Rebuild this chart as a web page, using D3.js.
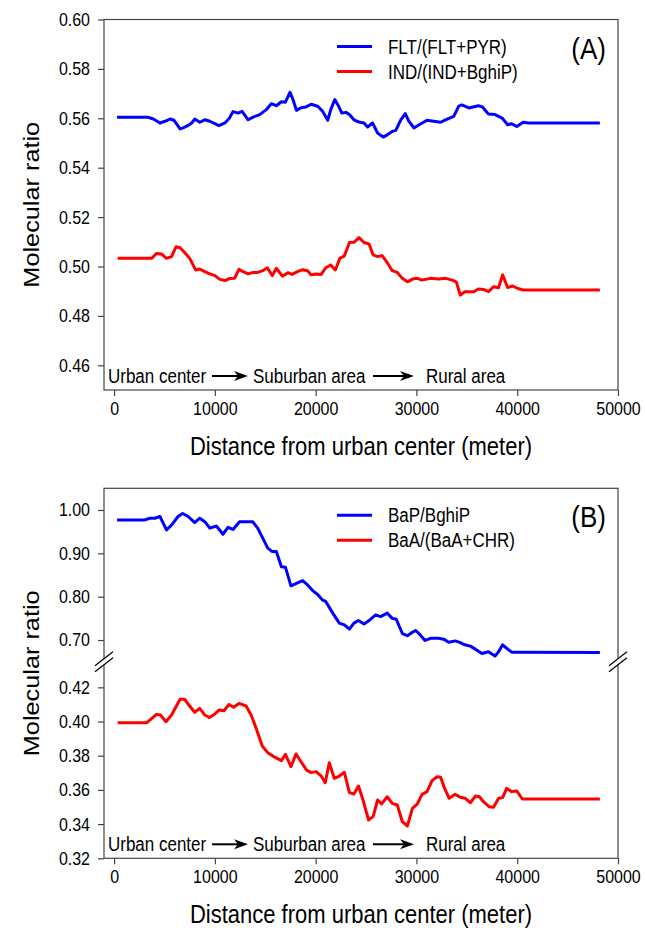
<!DOCTYPE html>
<html>
<head>
<meta charset="utf-8">
<script src="https://cdn.jsdelivr.net/npm/d3@7"></script>
<style>
  body { margin: 0; background: #fff; }
  text { font-family: "Liberation Sans", Arial, sans-serif; fill: #000; }
</style>
</head>
<body>
<div id="chart"></div>
<script>
// ---- Panel A data ----
const distFlt = [300, 3400, 3900, 4550, 5050, 5550, 5950, 6550, 6850, 7350, 7700, 8000, 8500, 9000, 9500, 10400, 11000, 11450, 11800, 12300,
  12700, 13300, 13800, 14450, 15100, 15600, 16100, 16600, 17000, 17450, 17750, 18100, 18550, 19050, 19550, 20200, 20700, 21200, 21500, 21900,
  22200, 22600, 23000, 23350, 23800, 24300, 24800, 25150, 25650, 26150, 26700, 27100, 27600, 27950, 28450, 28900, 29250, 29750, 30400, 31050,
  31700, 32400, 33050, 33700, 34200, 34500, 35200, 36150, 36550, 37150, 37800, 38500, 39050, 39450, 39950, 40600, 41100, 48200];
const fltPyr = [0.5604, 0.5604, 0.5597, 0.5581, 0.5588, 0.5597, 0.5592, 0.5557, 0.5561, 0.5571, 0.5581, 0.5597, 0.5584, 0.5594, 0.5588, 0.5570, 0.5581, 0.5601, 0.5627, 0.5621,
  0.5628, 0.5594, 0.5605, 0.5615, 0.5635, 0.5659, 0.5651, 0.5667, 0.5665, 0.5705, 0.5676, 0.5632, 0.5643, 0.5646, 0.5657, 0.5649, 0.5628, 0.5592, 0.5635, 0.5676,
  0.5655, 0.5621, 0.5624, 0.5615, 0.5594, 0.5585, 0.5581, 0.5565, 0.5581, 0.5540, 0.5524, 0.5533, 0.5547, 0.5551, 0.5594, 0.5619, 0.5588, 0.5561, 0.5577, 0.5592,
  0.5588, 0.5584, 0.5597, 0.5608, 0.5649, 0.5654, 0.5642, 0.5651, 0.5646, 0.5617, 0.5615, 0.5601, 0.5574, 0.5578, 0.5567, 0.5584, 0.5581, 0.5581];

const distInd = [350, 3750, 4200, 4700, 5200, 5700, 6150, 6550, 7000, 7500, 8100, 8500, 9000, 9500, 10000, 10500, 11000, 11450, 11950, 12400,
  12800, 13300, 13800, 14250, 14750, 15200, 15700, 16100, 16700, 17250, 17650, 18200, 18700, 19200, 19550, 20050, 20550, 21000, 21500, 21950,
  22400, 22850, 23350, 23800, 24300, 24800, 25300, 25700, 26150, 26600, 27100, 27600, 28100, 28600, 29100, 29600, 30100, 30550, 31400, 32200,
  32900, 33550, 33950, 34350, 34800, 35700, 36150, 36650, 37150, 37650, 38150, 38550, 39050, 39550, 40050, 40600, 48200];
const indBghip = [0.5033, 0.5033, 0.5053, 0.5051, 0.5033, 0.5040, 0.5080, 0.5076, 0.5057, 0.5033, 0.4986, 0.4990, 0.4979, 0.4970, 0.4963, 0.4948, 0.4943, 0.4951, 0.4952, 0.4989,
  0.4979, 0.4970, 0.4976, 0.4976, 0.4983, 0.4995, 0.4963, 0.4993, 0.4961, 0.4975, 0.4968, 0.4979, 0.4987, 0.4983, 0.4966, 0.4970, 0.4968, 0.4995, 0.5006, 0.4986,
  0.5033, 0.5043, 0.5097, 0.5098, 0.5117, 0.5097, 0.5091, 0.5047, 0.5040, 0.5044, 0.5016, 0.4983, 0.4976, 0.4952, 0.4938, 0.4949, 0.4952, 0.4945, 0.4952, 0.4949,
  0.4952, 0.4945, 0.4938, 0.4884, 0.4898, 0.4898, 0.4909, 0.4907, 0.4898, 0.4918, 0.4914, 0.4966, 0.4915, 0.4921, 0.4911, 0.4905, 0.4905];

// ---- Panel B data ----
const distBap = [300, 3050, 3550, 4050, 4550, 5200, 5700, 6350, 6800, 7350, 8000, 8500, 9000, 9500, 10150, 10800, 11300, 11800, 12450, 13100,
  13750, 14250, 14750, 15250, 15700, 16100, 16600, 17000, 17550, 18200, 18700, 19200, 19700, 20200, 20700, 21000, 21700, 22350, 22850, 23350,
  23800, 24250, 24800, 25300, 25950, 26450, 27100, 27600, 28000, 28600, 29100, 29600, 29900, 30250, 30850, 31400, 32200, 32700, 33200, 33850,
  34350, 34800, 35350, 35850, 36500, 37150, 37800, 38150, 38550, 38950, 39450, 40300, 48200];
const bapBghip = [0.977, 0.977, 0.981, 0.981, 0.985, 0.954, 0.965, 0.985, 0.992, 0.985, 0.971, 0.981, 0.973, 0.958, 0.963, 0.944, 0.960, 0.955, 0.973, 0.973,
  0.973, 0.958, 0.935, 0.912, 0.904, 0.904, 0.869, 0.868, 0.825, 0.832, 0.837, 0.827, 0.814, 0.805, 0.792, 0.789, 0.762, 0.739, 0.735, 0.725,
  0.739, 0.745, 0.737, 0.745, 0.758, 0.754, 0.762, 0.750, 0.748, 0.715, 0.710, 0.718, 0.722, 0.715, 0.699, 0.704, 0.704, 0.702, 0.695, 0.698,
  0.694, 0.689, 0.686, 0.679, 0.669, 0.673, 0.663, 0.673, 0.689, 0.681, 0.672, 0.672, 0.671];

const distBaa = [350, 3250, 3750, 4200, 4600, 5150, 5700, 6550, 7000, 7500, 8000, 8500, 9000, 9450, 10000, 10400, 10900, 11400, 11850, 12400,
  13100, 13600, 14100, 14700, 15250, 15750, 16600, 17000, 17550, 18050, 18550, 19100, 19550, 20050, 20550, 20950, 21350, 21850, 22350, 22850,
  23350, 23800, 24250, 24700, 25250, 25700, 26150, 26550, 27100, 27600, 28100, 28600, 29100, 29600, 30100, 30550, 31050, 31550, 32050, 32400,
  32800, 33250, 33850, 34350, 34850, 35350, 35850, 36250, 36650, 37200, 37650, 38150, 38550, 38950, 39450, 39950, 40500, 48200];
const baaChr = [0.3993, 0.3993, 0.4019, 0.4042, 0.4038, 0.3999, 0.4038, 0.4130, 0.4130, 0.4091, 0.4054, 0.4077, 0.4038, 0.4024, 0.4044, 0.4067, 0.4063, 0.4100, 0.4083, 0.4106,
  0.4091, 0.4038, 0.3960, 0.3857, 0.3818, 0.3798, 0.3771, 0.3808, 0.3736, 0.3810, 0.3765, 0.3716, 0.3701, 0.3707, 0.3681, 0.3642, 0.3759, 0.3668, 0.3681, 0.3703,
  0.3584, 0.3576, 0.3623, 0.3541, 0.3424, 0.3444, 0.3541, 0.3518, 0.3560, 0.3521, 0.3512, 0.3414, 0.3389, 0.3492, 0.3518, 0.3574, 0.3590, 0.3654, 0.3677, 0.3674,
  0.3609, 0.3551, 0.3574, 0.3557, 0.3551, 0.3525, 0.3564, 0.3560, 0.3531, 0.3502, 0.3498, 0.3551, 0.3555, 0.3609, 0.3590, 0.3594, 0.3547, 0.3547];

// tick labels
const xTicks = [0, 10000, 20000, 30000, 40000, 50000];
const yTicksA = [0.46, 0.48, 0.50, 0.52, 0.54, 0.56, 0.58, 0.60];
const yTicksB = [0.32, 0.34, 0.36, 0.38, 0.40, 0.42, 0.70, 0.80, 0.90, 1.00];

const svgWidth = 645;
const svgHeight = 928;
const plotLeft = 104;
const plotRight = 618;
const stretch = 1.15; // the original figure's lettering is a bit taller than wide

const svg = d3.select("#chart")
  .append("svg")
  .attr("width", svgWidth)
  .attr("height", svgHeight);

svg.append("rect").attr("width", svgWidth).attr("height", svgHeight).attr("fill", "#fff");

const xScale = d3.scaleLinear()
  .domain([-1000, 50000])
  .range([plotLeft, plotRight]);

// panel A: plain scale; panel B: broken scale (gap between 0.435 and 0.65)
const yA = d3.scaleLinear().domain([0.45, 0.60]).range([390, 19.5]);
const yB = d3.scaleLinear()
  .domain([0.32, 0.435, 0.65, 1.05])
  .range([858.3, 661.7, 661.7, 488.3]);

// text helper, baseline at (x, y), stretched vertically
function addText(g, x, y, str, size, anchor) {
  return g.append("text")
    .attr("transform", `translate(${x},${y}) scale(1,${stretch})`)
    .attr("text-anchor", anchor || "start")
    .attr("font-size", size + "px")
    .text(str);
}

function drawPanel(opts) {
  const g = svg.append("g");
  const top = opts.y.range()[opts.y.range().length - 1];
  const bottom = opts.y.range()[0];

  // frame
  g.append("rect")
    .attr("x", plotLeft)
    .attr("y", top)
    .attr("width", plotRight - plotLeft)
    .attr("height", bottom - top)
    .attr("fill", "none")
    .attr("stroke", "#444")
    .attr("stroke-width", 1.2);

  const leftAxis = d3.axisLeft(opts.y)
    .tickValues(opts.yTicks)
    .tickFormat(d3.format(".2f"))
    .tickSize(6)
    .tickPadding(8);

  const bottomAxis = d3.axisBottom(xScale)
    .tickValues(xTicks)
    .tickFormat(d3.format("d"))
    .tickSize(6)
    .tickPadding(6);

  const ya = g.append("g")
    .attr("transform", `translate(${plotLeft},0)`)
    .call(leftAxis);
  const xa = g.append("g")
    .attr("transform", `translate(0,${bottom})`)
    .call(bottomAxis);

  [ya, xa].forEach(a => {
    a.select(".domain").remove();
    a.selectAll(".tick line").attr("stroke", "#444").attr("stroke-width", 1.2);
    a.selectAll(".tick text")
      .attr("font-size", "16px")
      .attr("font-family", "Liberation Sans, Arial, sans-serif")
      .attr("fill", "#000")
      .attr("transform", `scale(1,${stretch})`);
  });
  xa.selectAll(".tick text").attr("y", 12 / stretch);

  // series lines
  const line = d3.line()
    .x(d => xScale(d[0]))
    .y(d => opts.y(d[1]));

  opts.series.forEach(s => {
    g.append("path")
      .datum(d3.zip(s.dist, s.values))
      .attr("fill", "none")
      .attr("stroke", s.color)
      .attr("stroke-width", 3)
      .attr("stroke-linejoin", "round")
      .attr("d", line);
  });

  // legend
  opts.series.forEach((s, i) => {
    const ly = top + 27 + i * 25;
    g.append("line")
      .attr("x1", 337).attr("x2", 372)
      .attr("y1", ly).attr("y2", ly)
      .attr("stroke", s.color)
      .attr("stroke-width", 3);
    addText(g, 388, ly + 7, s.name, 17);
  });

  // panel letter
  addText(g, 606, top + 39, opts.letter, 26, "end");

  // urban -> rural annotation
  const ay = bottom - 7;
  const notes = [["Urban center", 108], ["Suburban area", 253], ["Rural area", 426]];
  notes.forEach(n => addText(g, n[1], ay, n[0], 17));
  [[212, 248], [373, 414]].forEach(a => {
    const cy = ay - 7;
    g.append("line")
      .attr("x1", a[0]).attr("x2", a[1] - 6)
      .attr("y1", cy).attr("y2", cy)
      .attr("stroke", "#000")
      .attr("stroke-width", 2);
    g.append("path")
      .attr("d", `M${a[1]},${cy} L${a[1] - 14},${cy - 5} L${a[1] - 10},${cy} L${a[1] - 14},${cy + 5} Z`)
      .attr("fill", "#000");
  });

  // axis titles
  addText(g, (plotLeft + plotRight) / 2, bottom + 65, "Distance from urban center (meter)", 22, "middle");

  g.append("text")
    .attr("transform", `translate(39,${(top + bottom) / 2}) rotate(-90) scale(${stretch},1)`)
    .attr("text-anchor", "middle")
    .attr("font-size", "22px")
    .text("Molecular ratio");

  return g;
}

drawPanel({
  y: yA,
  yTicks: yTicksA,
  letter: "(A)",
  series: [
    {name: "FLT/(FLT+PYR)", color: "#0000ff", dist: distFlt, values: fltPyr},
    {name: "IND/(IND+BghiP)", color: "#ff0000", dist: distInd, values: indBghip}
  ]
});

const gB = drawPanel({
  y: yB,
  yTicks: yTicksB,
  letter: "(B)",
  series: [
    {name: "BaP/BghiP", color: "#0000ff", dist: distBap, values: bapBghip},
    {name: "BaA/(BaA+CHR)", color: "#ff0000", dist: distBaa, values: baaChr}
  ]
});

// axis break marks on both sides of panel B
const breakY = yB(0.65);
[plotLeft, plotRight].forEach(bx => {
  gB.append("path")
    .attr("d", `M${bx - 9},${breakY + 4} L${bx + 9},${breakY - 10} L${bx + 9},${breakY - 4} L${bx - 9},${breakY + 10} Z`)
    .attr("fill", "#fff");
  [0, 6].forEach(off => {
    gB.append("line")
      .attr("x1", bx - 9).attr("y1", breakY + 4 + off)
      .attr("x2", bx + 9).attr("y2", breakY - 10 + off)
      .attr("stroke", "#000")
      .attr("stroke-width", 1.2);
  });
});
</script>
</body>
</html>
